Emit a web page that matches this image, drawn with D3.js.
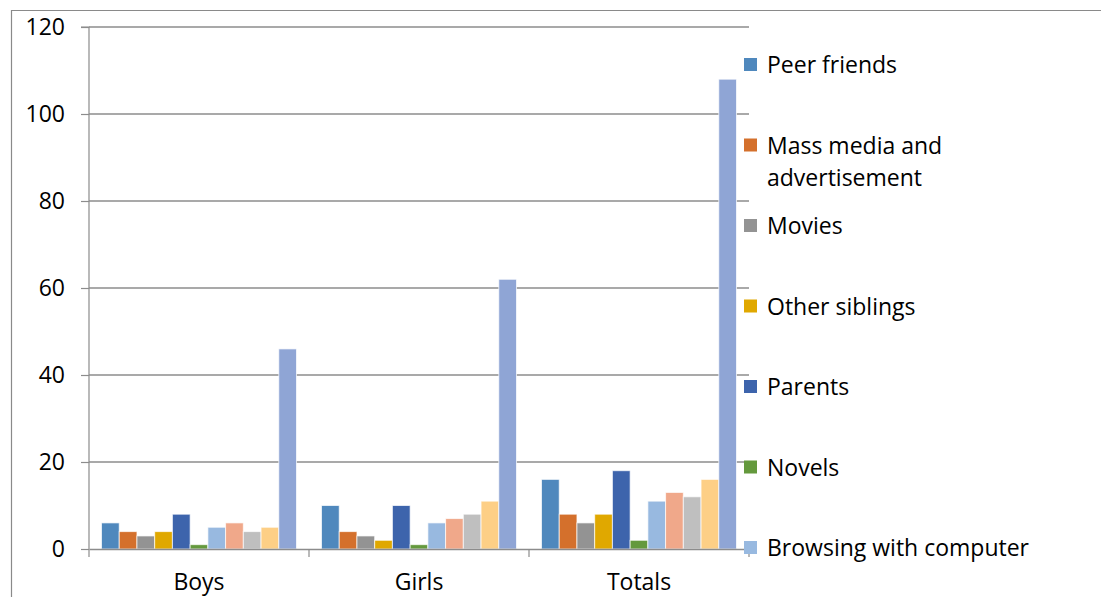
<!DOCTYPE html>
<html>
<head>
<meta charset="utf-8">
<script src="https://cdn.jsdelivr.net/npm/d3@7/dist/d3.min.js"></script>
<style>
  html, body { margin: 0; padding: 0; background: #fff; }
  svg { display: block; }
  text { font-family: "Open Sans", Lato, sans-serif; fill: #000; }
</style>
</head>
<body>
<svg id="chart" width="1101" height="597"></svg>
<script>
// ---- data ----
const categories = ["Boys", "Girls", "Totals"];
const seriesNames = [
  "Peer friends",
  "Mass media and advertisement",
  "Movies",
  "Other siblings",
  "Parents",
  "Novels",
  "Browsing with computer",
  "Series 8",
  "Series 9",
  "Series 10",
  "Series 11"
];
const boysValues   = [6, 4, 3, 4, 8, 1, 5, 6, 4, 5, 46];
const girlsValues  = [10, 4, 3, 2, 10, 1, 6, 7, 8, 11, 62];
const totalsValues = [16, 8, 6, 8, 18, 2, 11, 13, 12, 16, 108];
const yTicks = [0, 20, 40, 60, 80, 100, 120];
const seriesColors = [
  "#4F88BD", "#D4702C", "#939393", "#E0A800", "#3D64AC", "#64993D",
  "#98B9E0", "#F0A88A", "#BFBFBF", "#FDCF86", "#8FA5D5"
];
const legendLines = [
  ["Peer friends"],
  ["Mass media and", "advertisement"],
  ["Movies"],
  ["Other siblings"],
  ["Parents"],
  ["Novels"],
  ["Browsing with computer"]
];

const valuesByCategory = [boysValues, girlsValues, totalsValues];
const FONT = "'Open Sans', Lato, sans-serif";
const FS = 23;

// ---- layout ----
const svg = d3.select("#chart");
const plot = { left: 89, right: 749, top: 27, bottom: 549 };

// outer frame (only top & left visible in the reference)
svg.append("path")
  .attr("d", `M11.5,600 L11.5,10.5 L1101,10.5`)
  .attr("fill", "none").attr("stroke", "#8a8a8a").attr("stroke-width", 1.2);

const x0 = d3.scaleBand().domain(categories).range([plot.left, plot.right]).paddingInner(0).paddingOuter(0);
const pad = 12.5;
const x1 = d3.scaleBand().domain(d3.range(seriesNames.length))
  .range([pad, x0.bandwidth() - pad]).paddingInner(0).paddingOuter(0);
const y = d3.scaleLinear().domain([0, 120]).range([plot.bottom, plot.top]);

// gridlines
svg.append("g").selectAll("line")
  .data(yTicks.filter(d => d > 0))
  .join("line")
  .attr("x1", plot.left).attr("x2", plot.right)
  .attr("y1", d => y(d)).attr("y2", d => y(d))
  .attr("stroke", "#8c8c8c").attr("stroke-width", 1.5);

// bars
const groups = svg.append("g").selectAll("g")
  .data(categories.map((c, i) => ({ c, vals: valuesByCategory[i] })))
  .join("g")
  .attr("transform", d => `translate(${x0(d.c)},0)`);

groups.selectAll("rect")
  .data(d => d.vals.map((v, i) => ({ v, i })))
  .join("rect")
  .attr("x", d => x1(d.i))
  .attr("y", d => y(d.v))
  .attr("width", x1.bandwidth())
  .attr("height", d => y(0) - y(d.v))
  .attr("fill", d => seriesColors[d.i])
  .attr("stroke", "rgba(255,255,255,0.7)")
  .attr("stroke-width", 1);

// y axis
const yAxis = d3.axisLeft(y).tickValues(yTicks).tickSize(8).tickPadding(16).tickFormat(d3.format("d"));
const gy = svg.append("g").attr("transform", `translate(${plot.left},0)`).call(yAxis);
gy.select(".domain").attr("stroke", "#8c8c8c").attr("stroke-width", 1.2).attr("d", `M-8,${plot.top}H0V${plot.bottom}`);
gy.selectAll(".tick line").attr("stroke", "#8c8c8c").attr("stroke-width", 1.2);
gy.selectAll(".tick text").attr("font-size", FS).attr("font-family", FONT).attr("fill", "#000");

// x axis
const xAxis = d3.axisBottom(x0).tickSize(0).tickPadding(25);
const gx = svg.append("g").attr("transform", `translate(0,${plot.bottom})`).call(xAxis);
gx.select(".domain").attr("stroke", "#8c8c8c").attr("stroke-width", 1.5);
gx.selectAll(".tick text").attr("font-size", FS).attr("font-family", FONT).attr("fill", "#000");
// category boundary ticks
const boundaries = categories.map(c => x0(c)).concat([x0(categories[categories.length - 1]) + x0.bandwidth()]);
gx.append("g").selectAll("line").data(boundaries).join("line")
  .attr("x1", d => d).attr("x2", d => d).attr("y1", 0).attr("y2", 8)
  .attr("stroke", "#8c8c8c").attr("stroke-width", 1.2);

// legend (clipped in the reference: only the first seven entries are visible)
const legendY = d3.scaleLinear().domain([0, 6]).range([65, 548]);
const leg = svg.append("g").selectAll("g")
  .data(legendLines)
  .join("g")
  .attr("transform", (d, i) => `translate(744,${legendY(i)})`);
leg.append("rect")
  .attr("x", 0).attr("y", -7).attr("width", 13).attr("height", 13)
  .attr("fill", (d, i) => seriesColors[i]);
leg.each(function(lines) {
  const t = d3.select(this).append("text")
    .attr("x", 23).attr("y", 8)
    .attr("font-size", FS).attr("font-family", FONT);
  lines.forEach((ln, k) => {
    t.append("tspan").attr("x", 23).attr("dy", k === 0 ? 0 : 32).text(ln);
  });
});
</script>
</body>
</html>
